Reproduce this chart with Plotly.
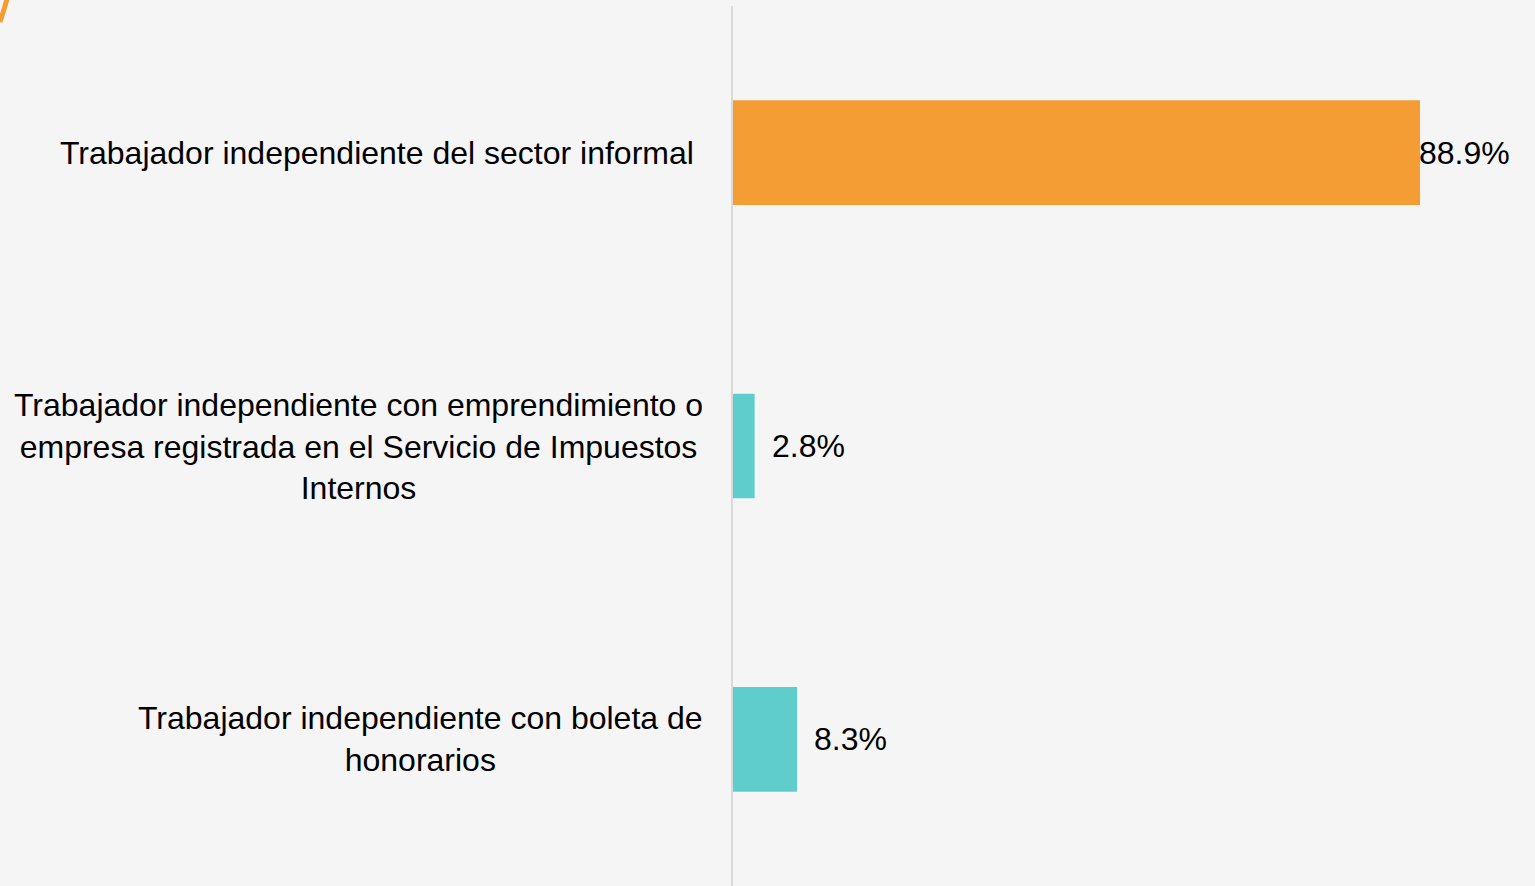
import plotly.graph_objects as go

categories = [
    "Trabajador independiente del sector informal\u00a0",
    "Trabajador independiente con emprendimiento o<br>empresa registrada en el Servicio de Impuestos<br>Internos",
    "Trabajador independiente con boleta de<br>honorarios",
]
values = [88.9, 2.8, 8.3]
value_labels = ["88.9%", "2.8%", "8.3%"]

bar_colors = ["#F39D34", "#5FCDCB", "#5FCDCB"]
label_shifts = [-3, 15, 15]

FONT = "Liberation Sans, Arial, sans-serif"
keys = list(range(len(categories)))

fig = go.Figure(
    go.Bar(
        x=values,
        y=keys,
        orientation="h",
        marker=dict(color=bar_colors, line=dict(width=0)),
        width=0.357,
        hoverinfo="skip",
    )
)

annotations = []
for k, cat in zip(keys, categories):
    annotations.append(dict(
        xref="paper", yref="y", x=0, y=k, xanchor="right", yanchor="middle",
        xshift=-28, text=cat, align="center", showarrow=False,
        font=dict(family=FONT, size=32, color="#000000"),
    ))
for k, v, lab, sh in zip(keys, values, value_labels, label_shifts):
    annotations.append(dict(
        xref="x", yref="y", x=v, y=k, xanchor="left", yanchor="middle",
        xshift=sh, text=lab, showarrow=False,
        font=dict(family=FONT, size=32, color="#000000"),
    ))

fig.update_layout(
    width=1535, height=886,
    margin=dict(l=733, r=0, t=6, b=0),
    paper_bgcolor="#F5F5F5", plot_bgcolor="#F5F5F5",
    showlegend=False,
    annotations=annotations,
    xaxis=dict(range=[0, 103.78], showgrid=False, zeroline=False, showline=False,
               showticklabels=False, ticks=""),
    yaxis=dict(range=[2.5, -0.5], showgrid=False, zeroline=False, showline=True,
               linecolor="#D9D9D9", linewidth=2, showticklabels=False, ticks=""),
    shapes=[dict(
        type="path", xref="paper", yref="paper", xsizemode="pixel", ysizemode="pixel",
        xanchor=0, yanchor=1,
        path="M -726,7 Q -729,-4 -733,-16",
        line=dict(color="#F39D34", width=5),
    )],
)

fig.write_html(
    "out.html",
    config={"displayModeBar": False},
    post_script="document.body.style.margin='0';document.body.style.background='#F5F5F5';",
)
